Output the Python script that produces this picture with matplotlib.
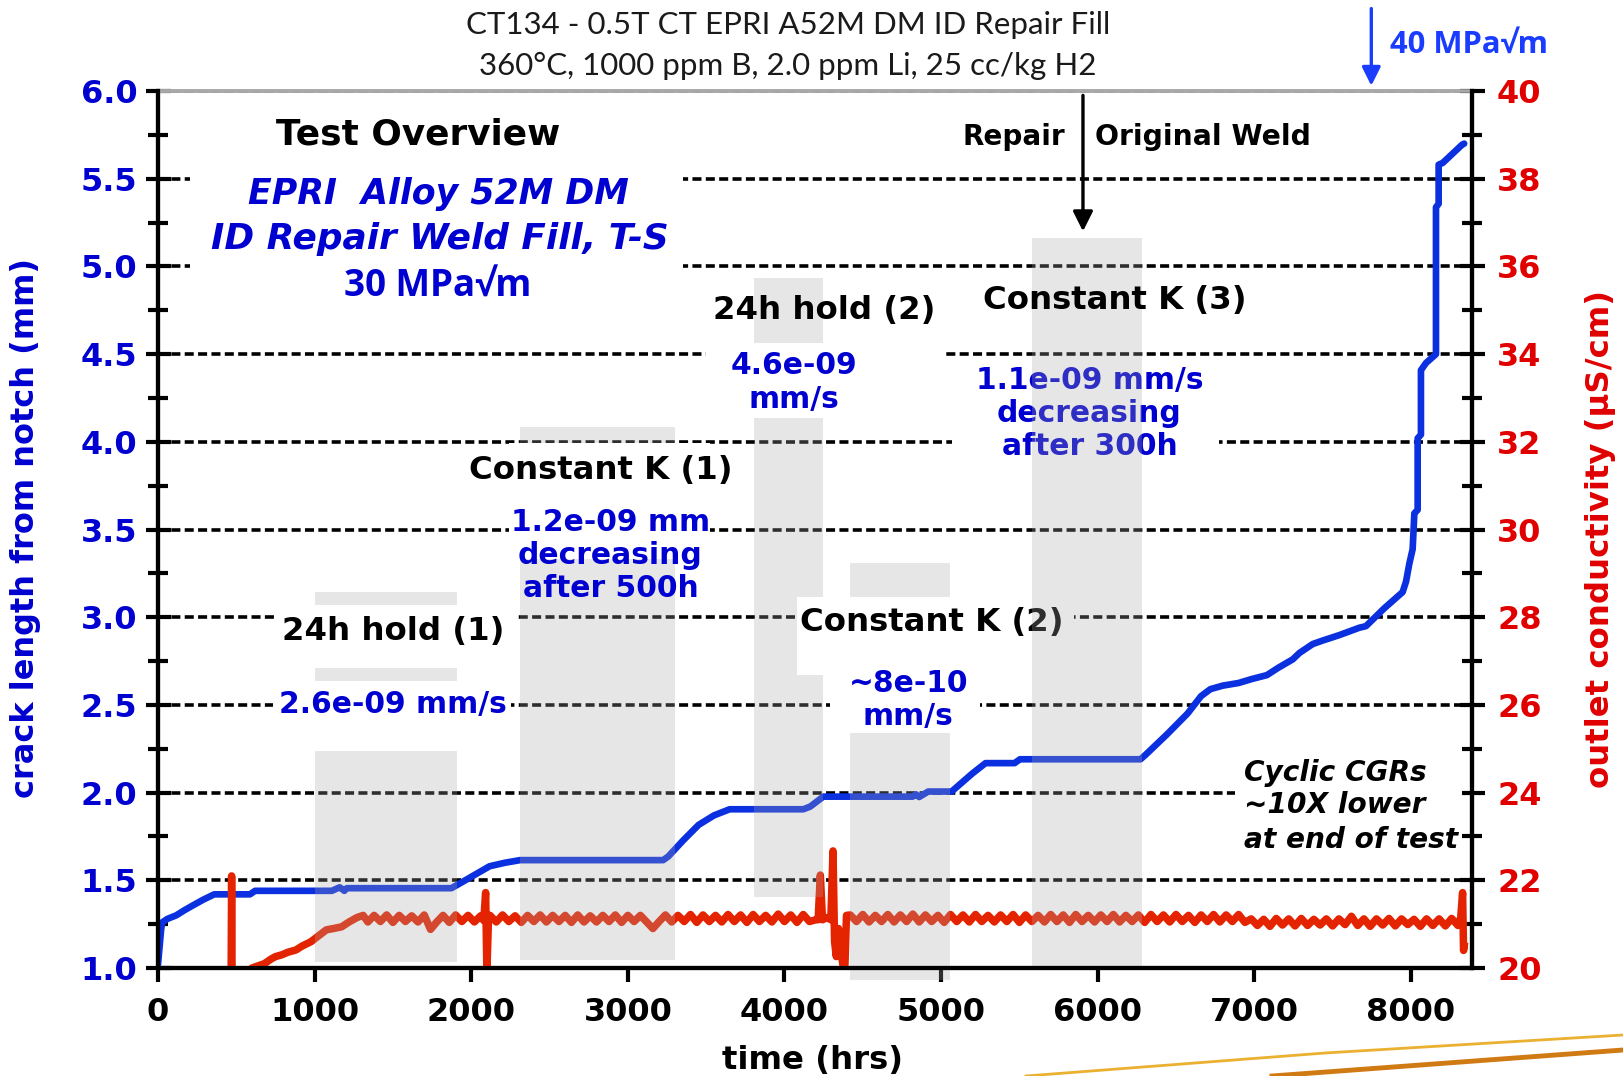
import numpy as np
import matplotlib
matplotlib.use("Agg")
import matplotlib.pyplot as plt
from matplotlib.patches import Rectangle
from matplotlib.lines import Line2D

# ---------------- data ----------------
x_ticks = [0, 1000, 2000, 3000, 4000, 5000, 6000, 7000, 8000]
y_left_ticks = [1.0, 1.5, 2.0, 2.5, 3.0, 3.5, 4.0, 4.5, 5.0, 5.5, 6.0]
y_right_ticks = [20, 22, 24, 26, 28, 30, 32, 34, 36, 38, 40]

# crack length (mm) vs time (hrs)
crack_time = [0, 20, 27, 60, 116, 170, 229, 290, 359, 587, 620, 1110, 1160, 1190, 1206,
              1873, 1923, 2020, 2117, 2215, 2312, 3225, 3257, 3356, 3452, 3550, 3650,
              4120, 4164, 4248, 4818, 4840, 4860, 4918, 5067, 5201, 5284, 5469, 5504,
              6273, 6305, 6440, 6573, 6660, 6720, 6800, 6900, 6982, 7081, 7150, 7246,
              7288, 7373, 7437, 7543, 7671, 7713, 7830, 7947, 7969, 7990, 8011, 8022,
              8043, 8043, 8064, 8064, 8096, 8160, 8160, 8177, 8177, 8203, 8327, 8340]
crack_mm = [1.02, 1.22, 1.26, 1.28, 1.30, 1.33, 1.36, 1.39, 1.42, 1.42, 1.44, 1.44, 1.46, 1.44, 1.455,
            1.455, 1.48, 1.53, 1.58, 1.60, 1.615, 1.615, 1.635, 1.73, 1.816, 1.87, 1.905,
            1.905, 1.92, 1.977, 1.977, 1.99, 1.975, 2.006, 2.006, 2.11, 2.168, 2.168, 2.19,
            2.19, 2.215, 2.33, 2.45, 2.55, 2.59, 2.61, 2.625, 2.647, 2.67, 2.71, 2.76,
            2.796, 2.847, 2.867, 2.898, 2.94, 2.949, 3.051, 3.143, 3.204, 3.306, 3.388, 3.592,
            3.612, 4.02, 4.041, 4.408, 4.449, 4.50, 5.337, 5.357, 5.58, 5.59, 5.694, 5.70]

# outlet conductivity (uS/cm) vs time (hrs)
cond_time_ramp = [440, 466, 470, 474, 560, 600, 640, 680, 720, 750, 790, 830, 880, 920, 977,
                  1020, 1075, 1120, 1173, 1220, 1270, 1310]
cond_ramp = [19.0, 19.0, 22.1, 19.0, 19.0, 20.0, 20.05, 20.1, 20.2, 20.26, 20.3, 20.36, 20.41,
             20.5, 20.6, 20.72, 20.87, 20.9, 20.94, 21.05, 21.15, 21.2]
cond_band1 = [21.05, 21.2, 21.06, 21.21, 21.04, 21.2, 21.06, 21.19, 21.05, 21.21, 20.88, 21.05,
              21.2, 21.04, 21.21, 21.06, 21.2, 21.05, 21.19]              # 1340..2060 every 40 h
cond_time_spike1 = [2080, 2092, 2100, 2110]
cond_spike1 = [21.08, 21.72, 19.9, 21.1]
cond_band2 = [21.2, 21.05, 21.21, 21.06, 21.19, 21.04, 21.2, 21.06, 21.21, 21.05,
              21.2, 21.06, 21.2, 21.04, 21.21, 21.05, 21.19, 21.05, 21.2, 21.06,
              21.21, 21.04, 21.2, 21.06, 21.2, 21.05, 20.9, 21.06, 21.21, 21.05,
              21.2, 21.06, 21.22, 21.04, 21.21, 21.06, 21.2, 21.05, 21.22, 21.06,
              21.21, 21.04, 21.22, 21.06, 21.2, 21.05, 21.23, 21.06, 21.21, 21.04,
              21.22, 21.06, 21.1]                                            # 2120..4200 every 40 h
cond_time_spike2 = [4215, 4229, 4243, 4270, 4296, 4310, 4320, 4331, 4345, 4360, 4384, 4396]
cond_spike2 = [21.1, 22.12, 21.1, 21.15, 21.1, 22.67, 20.6, 20.26, 20.9, 20.4, 19.8, 21.2]
cond_band3 = [21.21, 21.06, 21.22, 21.05, 21.2, 21.06, 21.22, 21.05, 21.21, 21.06,
              21.23, 21.05, 21.21, 21.06, 21.2, 21.04, 21.22, 21.06, 21.21, 21.05,
              21.22, 21.06, 21.2, 21.05, 21.21, 21.06, 21.22, 21.04, 21.21, 21.06,
              21.2, 21.05, 21.22, 21.06, 21.21, 21.04, 21.22, 21.06, 21.2, 21.05,
              21.21, 21.06, 21.22, 21.05, 21.2, 21.06, 21.21, 21.04, 21.22, 21.06,
              21.21, 21.05, 21.22, 21.06, 21.2, 21.04, 21.21, 21.06, 21.22, 21.05,
              21.21, 21.06, 21.22, 21.04,
              21.12, 20.97, 21.11, 20.95, 21.13, 20.98, 21.12, 20.96, 21.13, 20.97,
              21.11, 20.98, 21.12, 20.96, 21.12, 20.99, 21.18, 20.97, 21.12, 20.95,
              21.12, 20.98, 21.13, 20.96, 21.12, 20.99, 21.11, 20.95, 21.12, 20.97,
              21.12, 20.96, 21.13, 20.97]                                    # 4420..8300 every 40 h
cond_time_end = [8318, 8330, 8336, 8340]
cond_end = [21.15, 21.72, 20.4, 20.5]

# test phases (grey bands): name, start hr, end hr, low mm, high mm
phase_names = ["24h hold (1)", "Constant K (1)", "24h hold (2)", "Constant K (2)", "Constant K (3)"]
phase_start = [1003, 2310, 3803, 4416, 5578]
phase_end = [1906, 3299, 4244, 5054, 6286]
phase_low = [1.036, 1.046, 1.403, 0.93, 1.0]
phase_high = [3.145, 4.083, 4.936, 3.31, 5.164]

rate_labels = ["2.6e-09 mm/s", "1.2e-09 mm\ndecreasing\nafter 500h", "4.6e-09\nmm/s",
               "~8e-10\nmm/s", "1.1e-09 mm/s\ndecreasing\nafter 300h"]

# ---------------- style ----------------
BLUE_LINE = "#0a30e0"
RED_LINE = "#e42400"
BLUE_TXT = "#0000d0"
RED_TXT = "#e00000"
BOLD = dict(family="DejaVu Sans", weight="bold")
CALIBRI_B = dict(family=["Open Sans", "DejaVu Sans"], weight="bold")

fig = plt.figure(figsize=(16.23, 10.76), dpi=100)
L, R, T, B = 158, 1472, 91, 968
ax = fig.add_axes([L / 1623, 1 - B / 1076, (R - L) / 1623, (B - T) / 1076])
ax2 = ax.twinx()
ax.set_xlim(0, 8390)
ax.set_ylim(1.0, 6.0)
ax2.set_ylim(20, 40)

# grid
ax.set_yticks(y_left_ticks)
ax.set_yticks(np.arange(1.25, 6.0, 0.5), minor=True)
ax.grid(axis="y", which="major", color="black", linestyle=(0, (2.5, 1.2)), linewidth=2.6, zorder=0)
ax.set_axisbelow(True)

# lines
ax.plot(crack_time, crack_mm, color=BLUE_LINE, lw=4.8, solid_joinstyle="round",
        solid_capstyle="round", zorder=3)
cond_time = (list(cond_time_ramp) + list(np.arange(1340, 2061, 40)) + cond_time_spike1
             + list(np.arange(2120, 4201, 40)) + cond_time_spike2
             + list(np.arange(4420, 8301, 40)) + cond_time_end)
cond_vals = cond_ramp + cond_band1 + cond_spike1 + cond_band2 + cond_spike2 + cond_band3 + cond_end
ax2.plot(cond_time, cond_vals, color=RED_LINE, lw=5.4, solid_joinstyle="round", zorder=3)

# ticks / spines
for a in (ax, ax2):
    for s in ("left", "right", "bottom"):
        a.spines[s].set_linewidth(3.0)
        a.spines[s].set_color("black")
        a.spines[s].set_zorder(9)
    a.spines["top"].set_color("#a8a8a8")
    a.spines["top"].set_linewidth(2.6)

ax.set_xticks(x_ticks)
ax.set_xticklabels([str(v) for v in x_ticks])
ax.tick_params(axis="x", direction="out", length=10, width=3, pad=11, labelsize=23,
               labelcolor="black")
ax.tick_params(axis="y", which="major", direction="inout", length=18, width=3, pad=6,
               labelsize=23, labelcolor=BLUE_TXT)
ax.tick_params(axis="y", which="minor", direction="inout", length=15, width=3)
ax.set_yticklabels(["%.1f" % v for v in y_left_ticks])
ax2.set_yticks(y_right_ticks)
ax2.set_yticks(np.arange(21, 40, 2), minor=True)
ax2.tick_params(axis="y", which="major", direction="inout", length=18, width=3, pad=9,
                labelsize=23, labelcolor=RED_TXT)
ax2.tick_params(axis="y", which="minor", direction="inout", length=15, width=3)
for lab in ax.get_xticklabels() + ax.get_yticklabels() + ax2.get_yticklabels():
    lab.set_fontweight("bold")

# overlay objects drawn on ax2 but in left-axis data coordinates
tr = ax.transData
GREY = (0.66, 0.66, 0.66)
for i in range(4):
    ax2.add_patch(Rectangle((phase_start[i], phase_low[i]), phase_end[i] - phase_start[i],
                            phase_high[i] - phase_low[i], transform=tr, facecolor=GREY,
                            alpha=0.28, edgecolor="none", zorder=4, clip_on=False))

# white label backgrounds (x0, x1, y0, y1)
white_boxes = [(204, 3350, 4.72, 5.62), (754, 2278, 2.71, 3.07), (732, 2257, 2.237, 2.637),
               (2240, 3523, 3.33, 3.995), (3497, 5032, 4.137, 4.565), (4078, 5846, 2.671, 3.116),
               (4292, 5246, 2.34, 2.671), (5071, 6777, 3.86, 4.45), (6879, 8325, 1.62, 2.25)]
for x0, x1, y0, y1 in white_boxes:
    ax2.add_patch(Rectangle((x0, y0), x1 - x0, y1 - y0, transform=tr, facecolor="white",
                            edgecolor="none", zorder=5))

# phase labels and rates
phase_lab_pos = [(1502, 2.92), (2829, 3.836), (4256, 4.751), (4943, 2.968), (6112, 4.804)]
phase_lab_z = [6, 6, 6, 6, 8]
rate_pos = [(1502, 2.501), (2889, 3.35), (4058, 4.338), (4791, 2.528), (5947, 4.16)]
for name, (x, y), z in zip(phase_names, phase_lab_pos, phase_lab_z):
    ax2.text(x, y, name, transform=tr, ha="center", va="center", fontsize=23.3, color="black",
             zorder=z, **BOLD)
for lab, (x, y) in zip(rate_labels, rate_pos):
    ax2.text(x, y, lab, transform=tr, ha="center", va="center", fontsize=21.4, color=BLUE_TXT,
             zorder=6, linespacing=1.18, **BOLD)

# Constant K (3) band drawn on top of the boxes and rate text
ax2.add_patch(Rectangle((phase_start[4], phase_low[4]), phase_end[4] - phase_start[4],
                        phase_high[4] - phase_low[4], transform=tr, facecolor=GREY,
                        alpha=0.28, edgecolor="none", zorder=7))

# overview text
ax2.text(1660, 5.754, "Test Overview", transform=tr, ha="center", va="center", fontsize=25.8,
         color="black", zorder=6, **BOLD)
ax2.text(1792, 5.412, "EPRI  Alloy 52M DM", transform=tr, ha="center", va="center",
         fontsize=25, color=BLUE_TXT, style="italic", zorder=6, family="DejaVu Sans",
         weight="bold")
ax2.text(1799, 5.158, "ID Repair Weld Fill, T-S", transform=tr, ha="center", va="center",
         fontsize=25.8, color=BLUE_TXT, style="italic", zorder=6, family="DejaVu Sans",
         weight="bold")
ax2.text(1785, 4.887, "30 MPa\u221am", transform=tr, ha="center", va="center", fontsize=26.5,
         color=BLUE_TXT, zorder=6, **CALIBRI_B)

# repair / original weld boundary
ax2.text(5465, 5.737, "Repair", transform=tr, ha="center", va="center", fontsize=20.1,
         color="black", zorder=6, **BOLD)
ax2.text(6673, 5.737, "Original Weld", transform=tr, ha="center", va="center", fontsize=20.3,
         color="black", zorder=6, **BOLD)
ax2.annotate("", xy=(5906, 5.20), xycoords=tr, xytext=(5906, 5.975), textcoords=tr,
             arrowprops=dict(arrowstyle="-|>", color="black", lw=2.4, mutation_scale=30,
                             shrinkA=0, shrinkB=0), zorder=6)

# cyclic note
cyc_lines = ["Cyclic CGRs", "~10X lower", "at end of test"]
for s, y in zip(cyc_lines, [2.112, 1.929, 1.728]):
    ax2.text(6937, y, s, transform=tr, ha="left", va="center", fontsize=20.2, color="black",
             style="italic", zorder=6, family="DejaVu Sans", weight="bold")

# 40 MPa arrow above plot
ax2.annotate("", xy=(7747, 6.03), xycoords=tr, xytext=(7747, 6.47), textcoords=tr,
             arrowprops=dict(arrowstyle="-|>", color="#1a3cff", lw=2.4, mutation_scale=28,
                             shrinkA=0, shrinkB=0), annotation_clip=False, zorder=8)
fig.text(1390 / 1623, 1 - 45 / 1076, "40 MPa\u221am", ha="left", va="center", fontsize=22.3,
         color="#1a3cff", **CALIBRI_B)

# title
fig.text(788 / 1623, 1 - 25 / 1076, "CT134 - 0.5T CT EPRI A52M DM ID Repair Fill",
         ha="center", va="center", fontsize=22.5, color="#1a1a1a", family=["Lato", "DejaVu Sans"])
fig.text(788 / 1623, 1 - 66 / 1076, "360\u00b0C, 1000 ppm B, 2.0 ppm Li, 25 cc/kg H2",
         ha="center", va="center", fontsize=22.5, color="#1a1a1a", family=["Lato", "DejaVu Sans"])

# axis labels
fig.text(26 / 1623, 1 - 528 / 1076, "crack length from notch (mm)", rotation=90, ha="center",
         va="center", fontsize=23, color=BLUE_TXT, **BOLD)
fig.text(1601 / 1623, 1 - 539 / 1076, "outlet conductivity (\u00b5S/cm)", rotation=90,
         ha="center", va="center", fontsize=23.3, color=RED_TXT, **BOLD)
fig.text(812 / 1623, 1 - 1060 / 1076, "time (hrs)", ha="center", va="center", fontsize=23.3,
         color="black", **BOLD)

# decorative swoosh
fig.add_artist(Line2D([1026 / 1623, 1325 / 1623, 1623 / 1623],
                      [1 - 1076 / 1076, 1 - 1053 / 1076, 1 - 1035 / 1076],
                      color="#eab030", lw=2.0, transform=fig.transFigure))
fig.add_artist(Line2D([1272 / 1623, 1623 / 1623], [1 - 1076 / 1076, 1 - 1050 / 1076],
                      color="#d07a14", lw=3.5, transform=fig.transFigure))

fig.savefig("out.png", dpi=100)
